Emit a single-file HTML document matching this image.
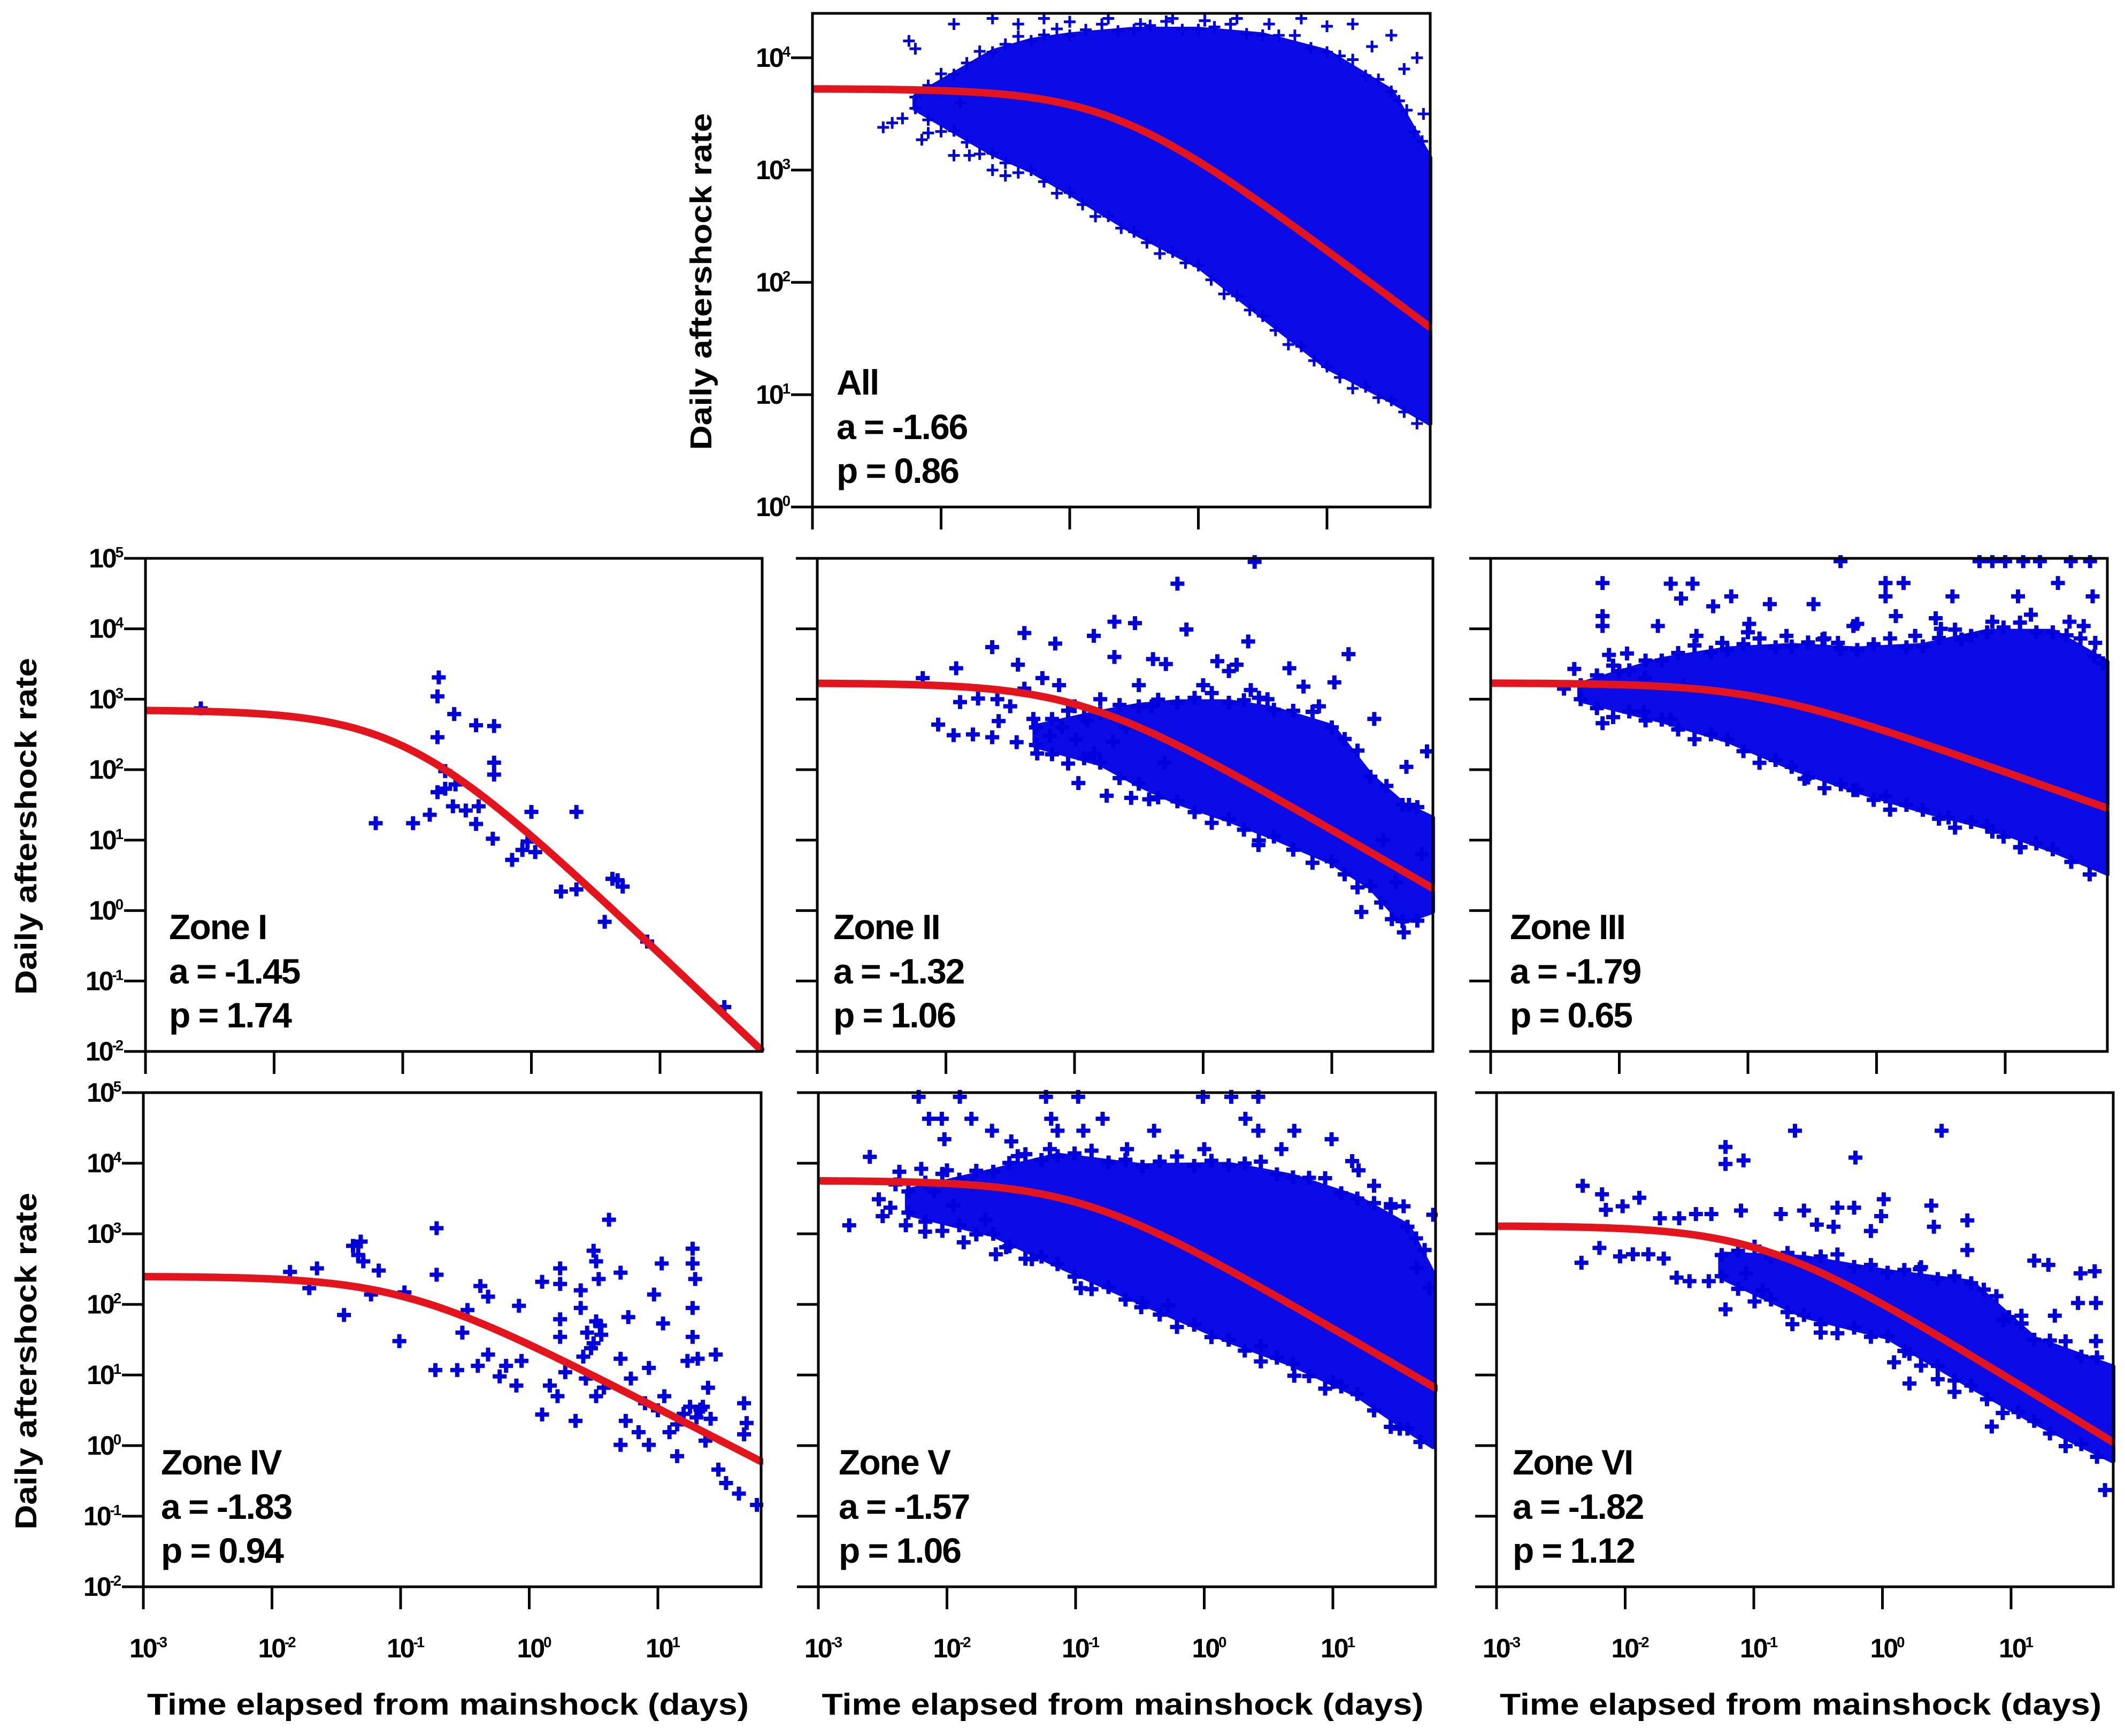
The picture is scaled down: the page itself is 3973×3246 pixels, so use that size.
<!DOCTYPE html>
<html><head><meta charset="utf-8"><title>Aftershock decay</title>
<style>
html,body{margin:0;padding:0;background:#fff}
svg{display:block}
text{font-family:"Liberation Sans",Arial,sans-serif;fill:#000}
</style></head>
<body>
<svg id="fig" width="3973" height="3246" viewBox="0 0 3973 3246" xmlns="http://www.w3.org/2000/svg"></svg>
<script>
// ---- data (log10 time in days, log10 daily rate) ----
const panelNames = ["All","Zone I","Zone II","Zone III","Zone IV","Zone V","Zone VI"];
const aValues = ["-1.66","-1.45","-1.32","-1.79","-1.83","-1.57","-1.82"];
const pValues = ["0.86","1.74","1.06","0.65","0.94","1.06","1.12"];
const omoriK = [1413,13.5,162,417,29.5,527,114];
const omoriC = [0.215,0.103,0.109,0.115,0.103,0.106,0.114];
const omoriP = [0.86,1.74,1.06,0.65,0.94,1.06,1.12];
const xTickExps = [-3,-2,-1,0,1];
const yTickExpsTop = [0,1,2,3,4];
const yTickExpsRow = [-2,-1,0,1,2,3,4,5];

const envT0 = [-2.2,-1.9,-1.6,-1.3,-1.0,-0.5,0,0.5,1.0,1.5,1.8];
const envHi0 = [3.65,3.85,4.05,4.15,4.2,4.25,4.25,4.2,4.05,3.7,3.1];
const envLo0 = [3.55,3.35,3.15,3.0,2.8,2.45,2.15,1.7,1.25,0.95,0.75];
const envT2 = [-1.3,-0.8,-0.5,-0.2,0.2,0.55,1.0,1.3,1.55,1.78];
const envHi2 = [2.6,2.8,2.9,2.95,2.95,2.85,2.6,1.9,1.5,1.3];
const envLo2 = [2.35,2.1,1.8,1.55,1.3,1.05,0.7,0.35,-0.15,0.0];
const envT3 = [-2.3,-1.67,-1.16,-0.66,-0.15,0.36,0.86,1.37,1.80];
const envHi3 = [3.2,3.55,3.7,3.75,3.7,3.75,3.95,3.95,3.5];
const envLo3 = [3.0,2.71,2.43,2.04,1.71,1.43,1.20,0.87,0.54];
const envT5 = [-2.3,-1.64,-1.14,-0.48,0.19,0.69,1.19,1.58,1.78];
const envHi5 = [3.6,3.88,4.1,3.95,3.97,3.8,3.5,3.1,2.4];
const envLo5 = [3.3,3.0,2.57,2.03,1.50,1.16,0.73,0.24,0.00];
const envT6 = [-1.25,-0.61,0.04,0.69,1.18,1.79];
const envHi6 = [2.7,2.65,2.45,2.3,1.5,1.1];
const envLo6 = [2.4,1.85,1.55,0.85,0.35,-0.2];

const pts0 = [[-2.45,3.38],[-2.38,3.42],[-2.3,3.46],[-2.15,3.27],[-2.1,3.33],[-1.9,3.13],[-1.78,3.13],[-2.2,4.08],[-2.25,4.15],[-2.0,3.7],[-1.85,3.6],[-1.6,3.0],[-1.5,2.95],[-1.9,4.3],[-1.6,4.35],[-1.2,4.35],[-0.7,4.35],[-0.2,4.35],[0.3,4.35],[0.8,4.35],[1.2,4.3],[1.5,4.2],[1.7,4.0],[1.75,3.5],[-1.4,4.3],[-1.0,4.32],[-0.45,4.3],[0.05,4.33],[0.55,4.3],[1.0,4.28],[1.35,4.1],[1.6,3.9]];
const pts1 = [[-2.57,2.87],[-0.72,3.31],[-0.73,3.04],[-0.60,2.79],[-0.43,2.63],[-0.29,2.62],[-0.73,2.46],[-0.29,2.10],[-0.29,1.93],[-0.67,1.98],[-0.73,1.68],[-0.67,1.73],[-0.59,1.79],[-0.61,1.48],[-0.51,1.42],[-0.41,1.48],[-0.79,1.36],[-0.92,1.24],[-1.21,1.24],[-0.43,1.23],[-0.30,1.02],[0.00,1.40],[0.35,1.40],[-0.15,0.72],[-0.07,0.86],[0.03,0.83],[0.23,0.27],[0.35,0.30],[0.63,0.45],[0.67,0.43],[0.71,0.34],[0.57,-0.16],[0.90,-0.44],[1.50,-1.37],[-0.03,0.98]];
const pts2 = [[0.40,4.95],[-0.20,4.64],[-0.13,3.99],[-0.69,4.10],[-0.53,4.08],[-1.39,3.94],[-1.64,3.74],[-1.15,3.79],[-0.85,3.90],[0.35,3.82],[1.13,3.64],[-1.92,3.44],[-1.44,3.49],[-0.69,3.60],[-0.39,3.57],[-0.29,3.50],[0.11,3.54],[0.26,3.49],[0.67,3.44],[1.02,3.24],[0.78,3.18],[0.37,3.13],[-1.75,3.01],[-1.89,2.96],[-2.06,2.64],[-1.94,2.49],[-1.79,2.50],[-1.64,2.46],[-1.45,2.39],[-1.29,2.23],[-0.97,1.81],[-0.75,1.63],[-0.56,1.60],[-0.42,1.58],[0.43,0.93],[1.23,-0.02],[1.56,-0.31],[1.74,2.26],[1.58,2.04],[1.33,2.72],[-2.18,3.30],[-1.39,3.15],[-1.12,3.20],[-0.99,2.43],[-0.85,2.23],[-1.19,2.48],[-1.32,2.72],[-1.59,2.69],[-1.0,2.9],[-0.9,2.7],[-0.8,3.0],[-0.6,2.6],[-0.5,3.2],[-0.4,2.9],[-1.1,2.6],[-1.5,2.9],[-1.6,3.0],[-1.25,3.3],[-0.7,2.4],[-0.3,2.1],[0.0,3.2],[0.2,3.4],[0.5,3.0],[0.9,2.9],[1.4,1.0],[1.6,1.5],[1.7,0.8],[1.5,0.4]];
const pts3 = [[-2.13,4.65],[-2.13,4.18],[-2.13,4.04],[-2.13,2.66],[-1.60,4.64],[-1.43,4.64],[-1.52,4.43],[-1.13,4.46],[-0.83,4.35],[-0.49,4.35],[-0.28,4.96],[0.07,4.65],[0.21,4.65],[0.07,4.46],[0.80,4.96],[0.90,4.96],[1.00,4.96],[1.14,4.96],[1.27,4.96],[1.51,4.96],[1.66,4.96],[1.41,4.65],[1.68,4.46],[0.59,4.46],[1.10,4.46],[0.15,4.18],[0.46,4.15],[-0.15,4.07],[-0.99,4.07],[-1.70,4.04],[-2.08,3.63],[-1.94,3.65],[-1.81,2.82],[-1.60,2.71],[-2.35,3.43],[-2.43,3.15],[-0.56,1.87],[-0.18,1.71],[0.07,1.62],[0.56,1.32],[0.90,1.12],[1.12,0.90],[1.61,4.04],[1.76,3.51],[-0.42,3.85],[0.66,3.85],[-1.27,4.32],[-0.18,4.04],[-1.4,3.9],[-1.2,3.8],[-1.0,3.95],[-0.7,3.9],[-0.3,3.8],[0.3,3.9],[0.5,4.0],[0.9,4.1],[1.2,4.2],[1.5,4.1],[1.7,3.8],[-1.8,3.3],[-2.0,3.4],[-1.5,3.2]];
const pts4 = [[-1.86,2.46],[-1.71,2.23],[-1.65,2.51],[-1.44,1.85],[-1.37,2.83],[-1.33,2.70],[-1.31,2.89],[-1.29,2.61],[-1.23,2.14],[-1.17,2.48],[-1.01,1.48],[-0.97,2.17],[-0.72,3.08],[-0.72,2.42],[-0.73,1.07],[-0.56,1.07],[-0.52,1.60],[-0.48,1.92],[-0.38,2.26],[-0.32,2.11],[-0.40,1.13],[-0.32,1.29],[-0.23,0.98],[-0.18,1.13],[-0.10,0.85],[-0.08,1.98],[-0.06,1.20],[0.10,2.32],[0.10,0.44],[0.16,0.85],[0.22,0.70],[0.24,2.51],[0.24,2.29],[0.24,1.79],[0.24,1.54],[0.28,1.04],[0.36,0.35],[0.40,2.20],[0.40,1.95],[0.42,1.26],[0.44,0.95],[0.48,1.38],[0.50,2.76],[0.52,2.61],[0.52,1.76],[0.52,0.70],[0.54,2.36],[0.56,1.57],[0.58,0.82],[0.62,3.20],[0.71,2.45],[0.71,1.23],[0.71,0.01],[0.75,0.35],[0.77,1.82],[0.79,0.95],[0.85,0.19],[0.93,0.01],[0.93,1.10],[0.97,2.14],[1.03,2.58],[1.04,1.73],[1.05,0.70],[1.09,0.19],[1.15,-0.15],[1.23,1.20],[1.27,2.79],[1.27,2.58],[1.27,1.95],[1.27,1.54],[1.29,2.36],[1.31,1.23],[1.33,0.51],[1.37,0.07],[1.39,0.82],[1.41,0.38],[1.45,1.29],[1.47,-0.34],[1.53,-0.53],[1.63,-0.68],[1.67,0.60],[1.67,0.16],[1.69,0.32],[1.77,-0.84],[0.45,1.6],[0.5,1.45],[0.55,1.7],[1.2,0.45],[1.25,0.55],[1.3,0.4],[1.35,0.55],[1.15,0.3],[0.9,0.6],[1.0,0.5]];
const pts5 = [[-2.76,3.12],[-2.60,4.09],[-2.50,3.25],[-2.44,3.37],[-2.32,3.12],[-2.17,3.03],[-2.22,4.94],[-1.90,4.94],[-1.23,4.94],[-0.98,4.94],[-0.01,4.94],[0.21,4.94],[0.42,4.94],[-2.14,4.63],[-2.04,4.63],[-1.81,4.63],[-2.02,4.34],[-1.65,4.46],[-1.50,4.31],[-1.19,4.63],[-0.79,4.63],[-1.14,4.46],[-0.94,4.46],[-0.39,4.46],[0.32,4.63],[0.42,4.46],[0.70,4.46],[0.99,4.34],[1.15,4.03],[1.32,3.68],[1.45,3.42],[1.55,3.39],[1.65,2.52],[1.78,3.27],[1.75,2.23],[1.52,0.24],[0.70,0.99],[1.00,0.90],[0.44,1.41],[-0.28,1.99],[-0.49,1.96],[-0.96,2.23],[-1.34,2.64],[-1.87,2.88],[-1.62,2.71],[-1.54,2.81],[-2.53,3.49],[-2.37,3.88],[-2.20,3.92],[-2.4,3.7],[-2.1,3.6],[-1.95,3.4],[-1.8,3.7],[-1.7,3.2],[-2.0,3.9],[-1.45,4.1],[-0.6,4.2],[0.0,4.2],[0.6,4.2],[1.2,3.9],[-1.2,4.2]];
const pts6 = [[-2.34,2.59],[-2.33,3.68],[-2.18,3.56],[-2.15,3.34],[-2.02,3.39],[-1.89,3.51],[-2.20,2.80],[-2.04,2.68],[-1.94,2.71],[-1.82,2.71],[-1.70,2.65],[-1.60,2.38],[-1.50,2.33],[-1.35,2.33],[-1.73,3.22],[-1.58,3.22],[-1.45,3.28],[-1.33,3.28],[-1.22,4.23],[-1.22,3.99],[-1.08,4.04],[-1.22,1.93],[-1.10,3.33],[-0.79,3.28],[-0.61,3.33],[-0.51,3.13],[-0.35,3.37],[-0.22,3.37],[-0.68,4.46],[0.46,4.46],[-0.21,4.08],[0.01,3.49],[-0.01,3.25],[0.38,3.40],[0.40,3.10],[0.66,3.19],[0.66,2.77],[-0.09,3.04],[-0.38,3.10],[1.18,2.62],[1.29,2.56],[1.54,2.44],[1.65,2.47],[1.66,2.02],[1.52,2.02],[1.66,1.48],[1.73,-0.63],[0.85,0.27],[0.21,0.88],[0.09,1.18],[0.21,1.30],[0.29,2.50],[0.94,1.78],[1.08,1.84],[1.34,1.84],[0.43,0.94],[0.56,0.76],[-0.70,1.72],[-0.48,1.60],[-0.93,2.20],[-1.06,2.44]];

const envT = [envT0,null,envT2,envT3,null,envT5,envT6];
const envHi = [envHi0,null,envHi2,envHi3,null,envHi5,envHi6];
const envLo = [envLo0,null,envLo2,envLo3,null,envLo5,envLo6];
const ptsAll = [pts0,pts1,pts2,pts3,pts4,pts5,pts6];

// ---- layout ----
const layout = [
 {L:1519,R:2674,T:25,B:948,yMin:0,yMax:4.395,yt:yTickExpsTop,ylab:true,xlab:false,ytitle:1310,tx:45,ms:11,sw:5},
 {L:272,R:1425,T:1044,B:1966,yMin:-2,yMax:5,yt:yTickExpsRow,ylab:true,xlab:false,ytitle:48,tx:44,ms:13,sw:8},
 {L:1528,R:2679,T:1044,B:1966,yMin:-2,yMax:5,yt:yTickExpsRow,ylab:false,xlab:false,ytitle:0,tx:30,ms:13,sw:8},
 {L:2787,R:3940,T:1044,B:1966,yMin:-2,yMax:5,yt:yTickExpsRow,ylab:false,xlab:false,ytitle:0,tx:36,ms:13,sw:8},
 {L:268,R:1423,T:2043,B:2967,yMin:-2,yMax:5,yt:yTickExpsRow,ylab:true,xlab:true,ytitle:48,tx:33,ms:13,sw:8},
 {L:1530,R:2684,T:2043,B:2967,yMin:-2,yMax:5,yt:yTickExpsRow,ylab:false,xlab:true,ytitle:0,tx:38,ms:13,sw:8},
 {L:2798,R:3951,T:2043,B:2967,yMin:-2,yMax:5,yt:yTickExpsRow,ylab:false,xlab:true,ytitle:0,tx:30,ms:13,sw:8}
];
const NS = "http://www.w3.org/2000/svg";
const svg = document.getElementById('fig');
function mk(tag, attrs, parent){const e=document.createElementNS(NS,tag);for(const k in attrs)e.setAttribute(k,attrs[k]);(parent||svg).appendChild(e);return e;}
function powLabel(parent,x,y,exp,anchor,fs){
  const t=mk('text',{x:x,y:y,'text-anchor':anchor,'font-size':fs,'font-weight':'bold'},parent);
  
  
  t.setAttribute('letter-spacing','-3');
  const a=document.createElementNS(NS,'tspan');a.textContent='10';t.appendChild(a);
  const b=document.createElementNS(NS,'tspan');b.setAttribute('dy',-fs*0.38);b.setAttribute('font-size',fs*0.55);b.textContent=String(exp);t.appendChild(b);
  return t;
}
// crosses along an envelope edge (ragged cloud border)
function edgeCrosses(xs, ys, step, ms, sign){
  let d='';
  for(let k=0;k<xs.length-1;k++){
    const x0=xs[k],y0=ys[k],x1=xs[k+1],y1=ys[k+1];
    const len=Math.hypot(x1-x0,y1-y0), n=Math.max(1,Math.round(len/step));
    for(let j=0;j<n;j++){
      const f=j/n, x=x0+(x1-x0)*f, y=y0+(y1-y0)*f + sign*ms*((j%3)*0.7);
      d+='M'+(x-ms)+','+y+'h'+(2*ms)+'M'+x+','+(y-ms)+'v'+(2*ms);
    }
  }
  return d;
}

layout.forEach((P,i)=>{
  const xMax = -3 + (P.R-P.L)/240.5;
  const sx = v => P.L + (v+3)/(xMax+3)*(P.R-P.L);
  const sy = v => P.B - (v-P.yMin)/(P.yMax-P.yMin)*(P.B-P.T);
  const g = mk('g',{});
  
  
  const cp = mk('clipPath',{id:'clip'+i},g);
  mk('rect',{x:P.L,y:P.T-6,width:P.R-P.L+4,height:P.B-P.T+6},cp);
  const data = mk('g',{'clip-path':'url(#clip'+i+')'},g);
  
  
  let pd='';
  if(envT[i]){
    const tt=envT[i],hi=envHi[i],lo=envLo[i];
    let d='M'+sx(tt[0])+','+sy(hi[0]);
    for(let k=1;k<tt.length;k++) d+=' L'+sx(tt[k])+','+sy(hi[k]);
    for(let k=tt.length-1;k>=0;k--) d+=' L'+sx(tt[k])+','+sy(lo[k]);
    d+='Z';
    const cl=mk('path',{d:d,fill:'#0b0be8',stroke:'#0b0be8','stroke-width':P.ms,'stroke-linejoin':'round'},data);
    
    
    const xs=tt.map(sx);
    pd+=edgeCrosses(xs,hi.map(sy),P.ms*2.6,P.ms,-1);
    pd+=edgeCrosses(xs,lo.map(sy),P.ms*2.6,P.ms,1);
  }
  ptsAll[i].forEach(p=>{const x=sx(p[0]),y=sy(p[1]);pd+='M'+(x-P.ms)+','+y+'h'+(2*P.ms)+'M'+x+','+(y-P.ms)+'v'+(2*P.ms);});
  const pp=mk('path',{d:pd,stroke:'#0000dd','stroke-width':P.sw,fill:'none'},data);
  
  
  // Omori curve
  let cd='';
  for(let k=0;k<=200;k++){
    const lt=-3+k/200*(xMax+3);
    const r=omoriK[i]/Math.pow(omoriC[i]+Math.pow(10,lt),omoriP[i]);
    cd+=(k?' L':'M')+sx(lt).toFixed(1)+','+sy(Math.log10(r)).toFixed(1);
  }
  const cv=mk('path',{d:cd,stroke:'#e3141c','stroke-width':14,fill:'none','stroke-linecap':'round'},data);
  
  
  const fr=mk('rect',{x:P.L,y:P.T,width:P.R-P.L,height:P.B-P.T,fill:'none',stroke:'#000','stroke-width':5},g);
  
  
  P.yt.forEach(e=>{
    const y=sy(e);
    const tk=mk('line',{x1:P.L-40,x2:P.L,y1:y,y2:y,stroke:'#000','stroke-width':5},g);
    
    
    if(P.ylab) powLabel(g,P.L-44,y+17,e,'end',50);
  });
  xTickExps.forEach(e=>{
    const x=sx(e);
    const tk=mk('line',{x1:x,x2:x,y1:P.B,y2:P.B+42,stroke:'#000','stroke-width':5},g);
    
    
    if(P.xlab) powLabel(g,x+8,P.B+132,e,'middle',50);
  });
  if(P.xlab){
    const xt=mk('text',{x:(P.L+P.R)/2-8,y:P.B+239,'text-anchor':'middle','font-size':57,'font-weight':'bold',textLength:1125,lengthAdjust:'spacingAndGlyphs'},g);
    xt.textContent='Time elapsed from mainshock (days)';
    
    
  }
  if(P.ytitle){
    const cy=(P.T+P.B)/2+40;
    const yt=mk('text',{x:P.ytitle,y:cy,'text-anchor':'middle','font-size':57,'font-weight':'bold',transform:'rotate(-90 '+P.ytitle+' '+cy+')',dy:20,textLength:630,lengthAdjust:'spacingAndGlyphs'},g);
    yt.textContent='Daily aftershock rate';
    
    
  }
  const lines=[panelNames[i],'a = '+aValues[i],'p = '+pValues[i]];
  const offs=[-210,-127,-45];
  lines.forEach((s,k)=>{
    const tx=mk('text',{x:P.L+P.tx,y:P.B+offs[k],'font-size':66,'font-weight':'bold'},g);
    tx.setAttribute('letter-spacing','-2');
    tx.textContent=s;
    
    
  });
});
</script>
</body></html>
